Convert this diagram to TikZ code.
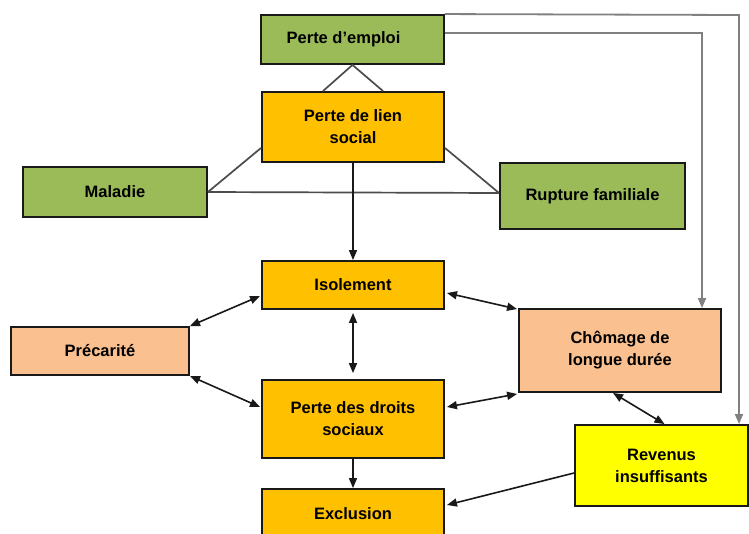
\documentclass[tikz,border=0pt]{standalone}
\usepackage{fontspec}
\setmainfont{Liberation Sans}
\usetikzlibrary{arrows.meta,calc}
\definecolor{vert}{HTML}{9BBB59}
\definecolor{orange}{HTML}{FFC000}
\definecolor{peche}{HTML}{FAC090}
\definecolor{jaune}{HTML}{FFFF00}
\begin{document}
\begin{tikzpicture}[x=1pt,y=-1pt,
  box/.style={draw=black!90,line width=1.9pt,inner sep=0pt,align=center,
    font=\fontsize{16.5}{22}\selectfont\bfseries},
  tri/.style={draw=black!70,line width=1.7pt},
  lien/.style={draw=black!50,line width=1.8pt},
  tip/.style={Triangle[length=10pt,width=8pt]},
  dbl/.style={draw=black!90,line width=1.6pt,{Triangle[length=10pt,width=8pt]}-{Triangle[length=10pt,width=8pt]}},
  one/.style={draw=black!90,line width=1.6pt,-{Triangle[length=10pt,width=8pt]}}]
\clip (0,0) rectangle (749,533);
\fill[white] (0,0) rectangle (749,533);
\node[box,fill=vert,minimum width=183pt,minimum height=49pt] (emploi) at (352.5,39.5) {\hspace*{-18pt}\raisebox{-3pt}{Perte d’emploi}};
\node[box,fill=orange,minimum width=182pt,minimum height=70pt] (lien) at (353,127) {Perte de lien\\social};
\node[box,fill=vert,minimum width=184pt,minimum height=50pt] (maladie) at (115,192) {Maladie};
\node[box,fill=vert,minimum width=185pt,minimum height=66pt] (rupture) at (592.5,196) {Rupture familiale};
\node[box,fill=orange,minimum width=182pt,minimum height=48pt] (isolement) at (353,285) {Isolement};
\node[box,fill=peche,minimum width=178pt,minimum height=48pt] (precarite) at (100,351) {Précarité};
\node[box,fill=peche,minimum width=202pt,minimum height=83pt] (chomage) at (620,350.5) {Chômage de\\longue durée};
\node[box,fill=orange,minimum width=182pt,minimum height=78pt] (droits) at (353,419) {Perte des droits\\sociaux};
\node[box,fill=jaune,minimum width=173pt,minimum height=81pt] (revenus) at (661.5,465.5) {Revenus\\insuffisants};
\node[box,fill=orange,minimum width=182pt,minimum height=50pt] (exclusion) at (353,514) {\raisebox{-3pt}{Exclusion}};
% triangle lines
\draw[tri] ($(lien.north)+(-30,0)$) -- (emploi.south) -- ($(lien.north)+(30,0)$);
\draw[tri] ($(lien.south west)+(0,-15)$) -- (maladie.east);
\draw[tri] ($(lien.south east)+(0,-15)$) -- ($(rupture.west)+(0,-3)$);
\draw[tri] (maladie.east) -- ($(rupture.west)+(0,-3)$);
% links from Perte d'emploi
\coordinate (c1) at (702,33);
\coordinate (c2) at (739,15);
\draw[lien,-{Triangle[length=10pt,width=8pt]}] (emploi.east |- c1) -- (c1) -- (c1 |- chomage.north);
\draw[lien,-{Triangle[length=10pt,width=8pt]}] (emploi.north east) -- (c2) -- (c2 |- revenus.north);
% arrows
\draw[one] (lien.south) -- (isolement.north);
\draw[dbl,shorten <=3pt,shorten >=6pt] (isolement.south) -- (droits.north);
\draw[dbl] (precarite.north east) -- ($(isolement.south west)+(-1,-14)$);
\draw[dbl] (precarite.south east) -- ($(droits.west)+(-1,-12)$);
\draw[dbl] ($(isolement.east)+(2,8)$) -- ($(chomage.north west)+(-1,1)$);
\draw[dbl] ($(droits.east)+(2,-12)$) -- ($(chomage.south west)+(-1,1)$);
\draw[dbl] ($(chomage.south)+(-7,0)$) -- ($(revenus.north)+(3,0)$);
\draw[one] ($(revenus.west)+(0,7.5)$) -- ($(exclusion.east)+(2,-9)$);
\draw[one] (droits.south) -- (exclusion.north);
\end{tikzpicture}
\end{document}
